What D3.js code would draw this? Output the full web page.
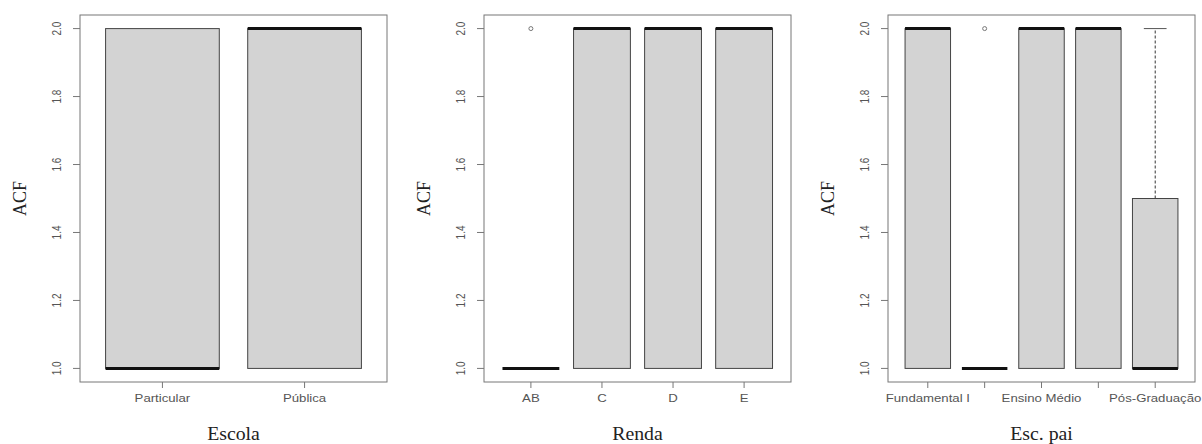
<!DOCTYPE html>
<html>
<head>
<meta charset="utf-8">
<script src="https://cdn.jsdelivr.net/npm/d3@7"></script>
<style>
  body { margin: 0; background: #fff; }
  svg { display: block; }
</style>
</head>
<body>
<svg id="chart" width="1202" height="444"></svg>
<script>
// data: [whisker low, q1, median, q3, whisker high]
const escolaCats = ["Particular", "Pública"];
const escolaStats = [[1, 1, 1, 2, 2], [1, 1, 2, 2, 2]];
const escolaOut = [[], []];

const rendaCats = ["AB", "C", "D", "E"];
const rendaStats = [[1, 1, 1, 1, 1], [1, 1, 2, 2, 2], [1, 1, 2, 2, 2], [1, 1, 2, 2, 2]];
const rendaOut = [[2], [], [], []];

const paiCats = ["Fundamental I", "Fundamental II", "Ensino Médio", "Ensino Superior", "Pós-Graduação"];
const paiStats = [[1, 1, 2, 2, 2], [1, 1, 1, 1, 1], [1, 1, 2, 2, 2], [1, 1, 2, 2, 2], [1, 1, 1, 1.5, 2]];
const paiOut = [[], [2], [], [], []];

const yTicks = [1.0, 1.2, 1.4, 1.6, 1.8, 2.0];

const panels = [
  {cats: escolaCats, stats: escolaStats, out: escolaOut, title: "Escola", left: 80},
  {cats: rendaCats, stats: rendaStats, out: rendaOut, title: "Renda", left: 484},
  {cats: paiCats, stats: paiStats, out: paiOut, title: "Esc. pai", left: 888}
];

const plotW = 307, plotTop = 15, plotBottom = 382;
const sx = 1.2; // horizontal stretch of the original picture's text
const svg = d3.select("#chart");

const y = d3.scaleLinear().domain([0.96, 2.04]).range([plotBottom, plotTop]);

panels.forEach(function (p) {
  const n = p.cats.length;
  const x = d3.scaleLinear()
      .domain([0.5 - 0.04 * n, n + 0.5 + 0.04 * n])
      .range([p.left, p.left + plotW]);
  const g = svg.append("g");
  const bw = x(0.8) - x(0);

  // boxes
  p.stats.forEach(function (s, i) {
    const cx = x(i + 1);
    // upper whisker
    if (s[4] > s[3]) {
      g.append("line")
        .attr("x1", cx).attr("x2", cx)
        .attr("y1", y(s[3])).attr("y2", y(s[4]))
        .attr("stroke", "#333").attr("stroke-dasharray", "3,2");
      g.append("line")
        .attr("x1", cx - bw / 4).attr("x2", cx + bw / 4)
        .attr("y1", y(s[4])).attr("y2", y(s[4]))
        .attr("stroke", "#555");
    }
    if (s[3] > s[1]) {
      g.append("rect")
        .attr("x", cx - bw / 2).attr("y", y(s[3]))
        .attr("width", bw).attr("height", y(s[1]) - y(s[3]))
        .attr("fill", "#d3d3d3").attr("stroke", "#444").attr("stroke-width", 1);
    }
    g.append("line")
      .attr("x1", cx - bw / 2).attr("x2", cx + bw / 2)
      .attr("y1", y(s[2])).attr("y2", y(s[2]))
      .attr("stroke", "#111").attr("stroke-width", 3);
    p.out[i].forEach(function (v) {
      g.append("circle")
        .attr("cx", cx).attr("cy", y(v)).attr("r", 2)
        .attr("fill", "none").attr("stroke", "#777");
    });
  });

  // frame
  g.append("rect")
    .attr("x", p.left).attr("y", plotTop)
    .attr("width", plotW).attr("height", plotBottom - plotTop)
    .attr("fill", "none").attr("stroke", "#777").attr("stroke-width", 1);

  // y axis ticks
  yTicks.forEach(function (t) {
    g.append("line")
      .attr("x1", p.left - 7).attr("x2", p.left)
      .attr("y1", y(t)).attr("y2", y(t))
      .attr("stroke", "#777");
    g.append("text")
      .attr("transform", "translate(" + (p.left - 19) + "," + y(t) + ") scale(" + sx + ",1) rotate(-90)")
      .attr("text-anchor", "middle")
      .attr("font-family", "Liberation Sans, Arial, sans-serif")
      .attr("font-size", 10)
      .attr("fill", "#555")
      .text(d3.format(".1f")(t));
  });

  // x axis ticks and labels (skip overlapping labels like R does)
  let lastRight = -Infinity;
  p.cats.forEach(function (c, i) {
    const cx = x(i + 1);
    g.append("line")
      .attr("x1", cx).attr("x2", cx)
      .attr("y1", plotBottom).attr("y2", plotBottom + 6)
      .attr("stroke", "#777");
    const t = g.append("text")
      .attr("transform", "translate(" + cx + "," + (plotBottom + 20) + ") scale(" + sx + ",1)")
      .attr("text-anchor", "middle")
      .attr("font-family", "Liberation Sans, Arial, sans-serif")
      .attr("font-size", 11)
      .attr("fill", "#555")
      .text(c);
    const w = t.node().getComputedTextLength() * sx;
    if (cx - w / 2 < lastRight + 4) {
      t.remove();
    } else {
      lastRight = cx + w / 2;
    }
  });

  // axis titles
  g.append("text")
    .attr("transform", "translate(" + (p.left + plotW / 2) + ",440) scale(1.1,1)")
    .attr("text-anchor", "middle")
    .attr("font-family", "Liberation Serif, Times New Roman, serif")
    .attr("font-size", 18)
    .attr("fill", "#222")
    .text(p.title);
  g.append("text")
    .attr("transform", "translate(" + (p.left - 54) + "," + ((plotTop + plotBottom) / 2) + ") scale(1.1,1) rotate(-90)")
    .attr("text-anchor", "middle")
    .attr("font-family", "Liberation Serif, Times New Roman, serif")
    .attr("font-size", 18)
    .attr("fill", "#222")
    .text("ACF");
});
</script>
</body>
</html>
